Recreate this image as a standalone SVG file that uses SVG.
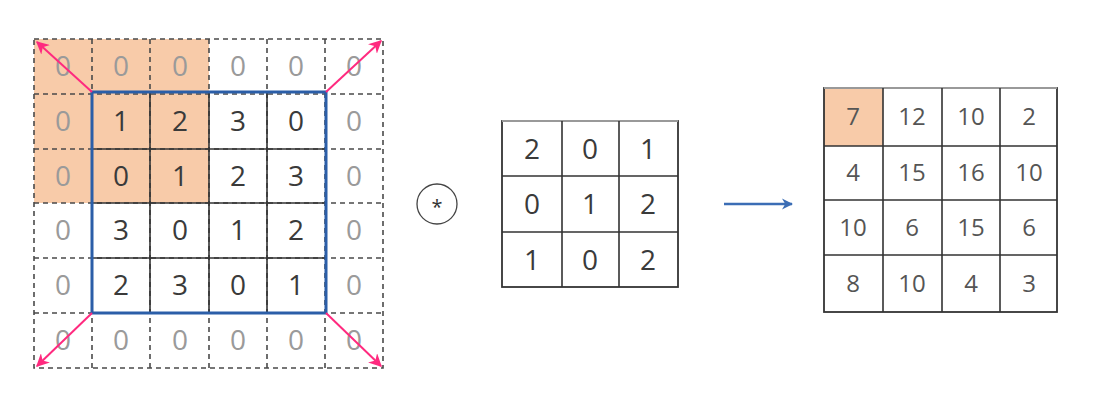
<svg xmlns="http://www.w3.org/2000/svg" width="1100" height="403" viewBox="0 0 1100 403">
<defs>
<style>
.t{font-family:"Open Sans","Noto Sans",sans-serif;font-size:28px;text-anchor:middle;fill:#3a3a3a}
.p{fill:#9a9a9a}
.o{font-family:"Open Sans","Noto Sans",sans-serif;font-size:24px;text-anchor:middle;fill:#555}
.dash{stroke:#4a4a4a;stroke-width:1.6;stroke-dasharray:5 4;fill:none}
.sol{stroke:#333;stroke-width:1.6;fill:none}
.pink{stroke:#ff2a7f;stroke-width:2;fill:none;marker-end:url(#ph)}
</style>
<marker id="ph" viewBox="0 0 10 10" refX="9" refY="5" markerWidth="6.5" markerHeight="6.5" orient="auto" markerUnits="strokeWidth">
<path d="M0,0 L10,5 L0,10 L3,5 Z" fill="#ff2a7f"/>
</marker>
<marker id="bh" viewBox="0 0 10 10" refX="9" refY="5" markerWidth="4.5" markerHeight="4.5" orient="auto" markerUnits="strokeWidth">
<path d="M0,0 L10,5 L0,10 L3,5 Z" fill="#3b6db5"/>
</marker>
</defs>
<rect width="1100" height="403" fill="#fff"/>

<g id="input">
<rect x="34" y="39" width="175" height="164" fill="#f8cba9"/>
<g class="dash">
<rect x="34" y="39" width="349" height="329"/>
<path d="M92,39V368M150,39V368M209,39V368M267,39V368M325,39V368M34,94H383M34,149H383M34,203H383M34,258H383M34,313H383"/>
</g>
<g class="sol">
<path d="M150,92V313M209,92V313M267,92V313M92,149H326M92,203H326M92,258H326"/>
</g>
<rect x="92" y="92" width="234" height="221" fill="none" stroke="#2b5ea8" stroke-width="3"/>
<g class="t p">
<text x="63" y="76">0</text><text x="121" y="76">0</text><text x="180" y="76">0</text><text x="238" y="76">0</text><text x="296" y="76">0</text><text x="354" y="76">0</text>
<text x="63" y="131">0</text><text x="354" y="131">0</text>
<text x="63" y="186">0</text><text x="354" y="186">0</text>
<text x="63" y="240">0</text><text x="354" y="240">0</text>
<text x="63" y="295">0</text><text x="354" y="295">0</text>
<text x="63" y="350">0</text><text x="121" y="350">0</text><text x="180" y="350">0</text><text x="238" y="350">0</text><text x="296" y="350">0</text><text x="354" y="350">0</text>
</g>
<g class="t">
<text x="121" y="131">1</text><text x="180" y="131">2</text><text x="238" y="131">3</text><text x="296" y="131">0</text>
<text x="121" y="186">0</text><text x="180" y="186">1</text><text x="238" y="186">2</text><text x="296" y="186">3</text>
<text x="121" y="240">3</text><text x="180" y="240">0</text><text x="238" y="240">1</text><text x="296" y="240">2</text>
<text x="121" y="295">2</text><text x="180" y="295">3</text><text x="238" y="295">0</text><text x="296" y="295">1</text>
</g>
</g>

<g id="operator">
<circle cx="437" cy="204" r="20" fill="none" stroke="#444" stroke-width="1.3"/>
<text x="437" y="214" font-family="'Open Sans','Noto Sans',sans-serif" font-size="20" text-anchor="middle" fill="#333">*</text>
</g>

<g id="kernel">
<rect x="502" y="121" width="176" height="166" fill="none" stroke="#333" stroke-width="1.8"/>
<line x1="502" y1="121" x2="678" y2="121" stroke="#999" stroke-width="2"/>
<path class="sol" d="M562,121V287M619,121V287M502,176H678M502,232H678"/>
<g class="t">
<text x="532" y="159">2</text><text x="590" y="159">0</text><text x="648" y="159">1</text>
<text x="532" y="214">0</text><text x="590" y="214">1</text><text x="648" y="214">2</text>
<text x="532" y="270">1</text><text x="590" y="270">0</text><text x="648" y="270">2</text>
</g>
</g>

<g id="connectors">
<path class="pink" d="M92,92L37,42"/>
<path class="pink" d="M326,92L381,41"/>
<path class="pink" d="M92,313L37,366"/>
<path class="pink" d="M326,313L381,366"/>
<line x1="724" y1="204" x2="792" y2="204" stroke="#3b6db5" stroke-width="2.5" marker-end="url(#bh)"/>
</g>

<g id="output">
<rect x="824" y="88" width="59" height="58" fill="#f8cba9"/>
<rect x="824" y="88" width="233" height="224" fill="none" stroke="#333" stroke-width="1.8"/>
<line x1="824" y1="88" x2="1057" y2="88" stroke="#999" stroke-width="2"/>
<path class="sol" d="M883,88V312M942,88V312M1000,88V312M824,146H1057M824,200H1057M824,255H1057"/>
<g class="o">
<text x="853" y="125">7</text><text x="912" y="125">12</text><text x="971" y="125">10</text><text x="1029" y="125">2</text>
<text x="853" y="181">4</text><text x="912" y="181">15</text><text x="971" y="181">16</text><text x="1029" y="181">10</text>
<text x="853" y="236">10</text><text x="912" y="236">6</text><text x="971" y="236">15</text><text x="1029" y="236">6</text>
<text x="853" y="292">8</text><text x="912" y="292">10</text><text x="971" y="292">4</text><text x="1029" y="292">3</text>
</g>
</g>
</svg>
